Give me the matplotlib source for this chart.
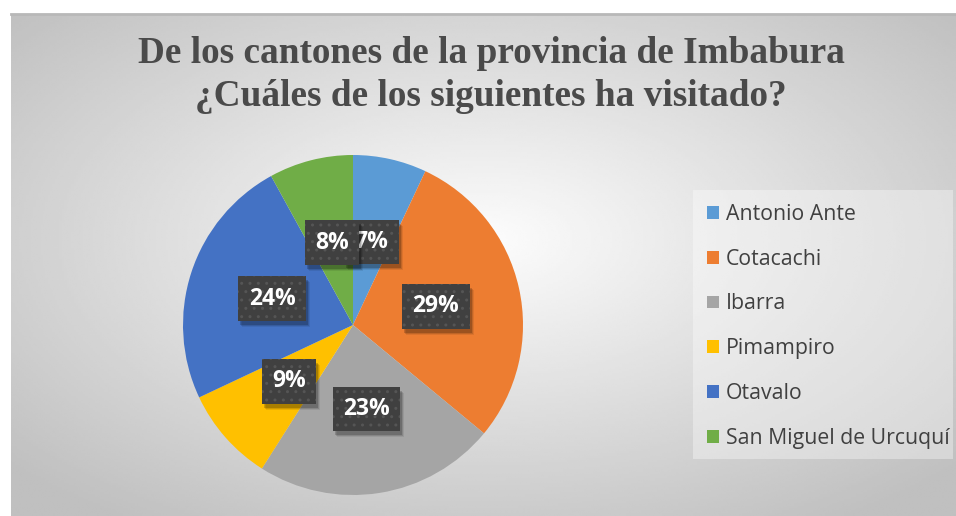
import numpy as np
import matplotlib
matplotlib.use("Agg")
import matplotlib.pyplot as plt
from matplotlib.patches import Rectangle
from matplotlib.transforms import IdentityTransform

# ---- data ----
categories = ["Antonio Ante", "Cotacachi", "Ibarra", "Pimampiro", "Otavalo", "San Miguel de Urcuquí"]
values = [7, 29, 23, 9, 24, 8]
colors = ["#5B9BD5", "#ED7D31", "#A5A5A5", "#FFC000", "#4472C4", "#70AD47"]
title_text = "De los cantones de la provincia de Imbabura\n¿Cuáles de los siguientes ha visitado?"

W, H = 956, 516
fig = plt.figure(figsize=(W / 100, H / 100), dpi=100)
fig.patch.set_facecolor("white")

# ---- background (radial gradient chart area) ----
bg = fig.add_axes([11 / W, 0, (W - 11) / W, (H - 14) / H], zorder=0)
nx, ny = 400, 220
xx, yy = np.meshgrid(np.linspace(0, 1, nx), np.linspace(0, 1, ny))
cx, cy = 0.5, 0.55
d = np.sqrt(((xx - cx) / 0.62) ** 2 + ((yy - cy) / 0.62) ** 2)
val = 0.99 - 0.24 * np.clip(d / 1.1, 0, 1)
bg.imshow(val, cmap="gray", vmin=0, vmax=1, extent=[0, 1, 0, 1], aspect="auto",
          origin="lower", interpolation="bilinear")
bg.plot([0, 1], [1, 1], color="#b8b8b8", lw=2, transform=bg.transAxes, clip_on=False)
bg.set_axis_off()

# ---- title ----
fig.text(491 / W, 1 - 75 / H, title_text, ha="center", va="center",
         family="Liberation Serif", fontweight="bold", fontsize=26.8,
         color="#4a4a4a", linespacing=1.27)

# ---- pie ----
cxp, cyp, r = 353, 325, 170
ax = fig.add_axes([(cxp - r) / W, (H - cyp - r) / H, 2 * r / W, 2 * r / H], zorder=2)
ax.set_facecolor("none")
wedges, texts, autotexts = ax.pie(values, colors=colors, startangle=90, counterclock=False,
                                  autopct="%1.0f%%", pctdistance=0.5, radius=1.0,
                                  wedgeprops=dict(linewidth=0))
ax.set_xlim(-1, 1)
ax.set_ylim(-1, 1)
ax.set_aspect("auto")

for i, t in enumerate(autotexts):
    t.set_fontsize(16.5)
    t.set_family("Open Sans")
    t.set_fontweight("bold")
    t.set_color("white")
    t.set_zorder(11 + 2 * i)
    t.set_bbox(dict(boxstyle="square,pad=0.45", fc="#404040", ec="#555555", lw=0, hatch=".."))

# ---- legend ----
fig.patches.append(Rectangle((693 / W, 1 - 459 / H), (953 - 693) / W, (459 - 190) / H,
                             transform=fig.transFigure, fc="white", alpha=0.35, ec="none",
                             zorder=1))
leg = fig.legend(wedges, categories, loc="upper left",
                 bbox_to_anchor=(692 / W, 1 - 189 / H), frameon=False,
                 prop=dict(family="Open Sans", size=15.3),
                 handlelength=0.55, handleheight=0.55, handletextpad=0.35,
                 labelspacing=1.12, borderpad=0.2)
for txt in leg.get_texts():
    txt.set_color("#404040")
leg.set_zorder(3)

# ---- label shadows (drawn inside the pie axes, under each own box) ----
fig.canvas.draw()
for i, t in enumerate(autotexts):
    bb = t.get_bbox_patch().get_window_extent()
    for k, a in [(5, 0.08), (4, 0.12), (3, 0.18)]:
        sh = Rectangle((bb.x0 + k - 1, bb.y0 - k - 1), bb.width, bb.height,
                       transform=IdentityTransform(), fc="black", ec="none", alpha=a,
                       zorder=10 + 2 * i)
        sh.set_clip_on(False)
        ax.add_artist(sh)

fig.savefig("out.png", dpi=100)
